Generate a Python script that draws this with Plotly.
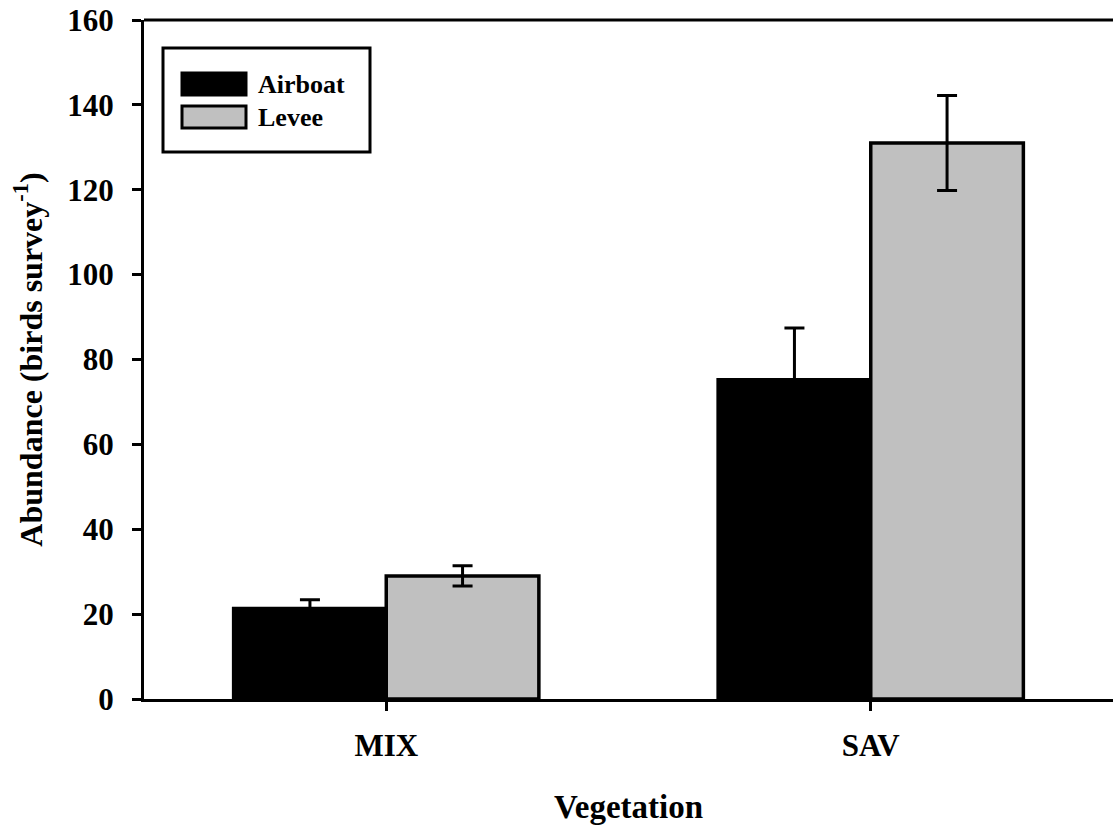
import plotly.graph_objects as go

categories = ["MIX", "SAV"]
airboat = [21.3, 75.2]
airboat_err = [2.1, 12.2]
levee = [29.0, 131.0]
levee_err = [2.4, 11.2]
series_names = ["Airboat", "Levee"]
y_ticks = [0, 20, 40, 60, 80, 100, 120, 140, 160]

FONT = "Liberation Serif"
W, H = 1113, 825
ML, MR, MT, MB = 144, 0, 20, 126

fig = go.Figure()
fig.add_trace(go.Bar(
    x=categories, y=airboat, name=series_names[0],
    marker=dict(color="black", line=dict(color="black", width=3.5)),
    error_y=dict(type="data", array=airboat_err, visible=True, color="black", thickness=3, width=10),
    showlegend=False,
))
fig.add_trace(go.Bar(
    x=categories, y=levee, name=series_names[1],
    marker=dict(color="#c0c0c0", line=dict(color="black", width=3.5)),
    error_y=dict(type="data", array=levee_err, visible=True, color="black", thickness=3, width=10),
    showlegend=False,
))

pw = W - ML - MR
ph = H - MT - MB
def px(x): return (x - ML) / pw
def py(y): return (H - MB - y) / ph

shapes = [
    dict(type="line", xref="paper", yref="paper", x0=0, x1=1.01, y0=1, y1=1,
         line=dict(color="black", width=3)),
    dict(type="rect", xref="paper", yref="paper", x0=px(163), x1=px(370), y0=py(152), y1=py(48),
         line=dict(color="black", width=3), fillcolor="white"),
    dict(type="rect", xref="paper", yref="paper", x0=px(182), x1=px(246), y0=py(95), y1=py(73),
         line=dict(color="black", width=3), fillcolor="black"),
    dict(type="rect", xref="paper", yref="paper", x0=px(182), x1=px(246), y0=py(128), y1=py(106),
         line=dict(color="black", width=3), fillcolor="#c0c0c0"),
]
annotations = [
    dict(text=series_names[0], xref="paper", yref="paper", x=px(256), y=py(84), xanchor="left", yanchor="middle",
         showarrow=False, font=dict(family=FONT, size=26, color="black", weight="bold")),
    dict(text=series_names[1], xref="paper", yref="paper", x=px(256), y=py(117), xanchor="left", yanchor="middle",
         showarrow=False, font=dict(family=FONT, size=26, color="black", weight="bold")),
]

fig.update_layout(
    width=W, height=H,
    margin=dict(l=ML, r=MR, t=MT, b=MB, pad=0),
    paper_bgcolor="white", plot_bgcolor="white",
    barmode="group", bargap=0.37, bargroupgap=0,
    font=dict(family=FONT, size=30, color="black", weight="bold"),
    shapes=shapes, annotations=annotations,
    xaxis=dict(
        range=[-0.5, 1.5], showline=True, linecolor="black", linewidth=3,
        ticks="outside", ticklen=9, tickwidth=3, tickcolor="black",
        showgrid=False, zeroline=False, ticklabelstandoff=8,
        tickfont=dict(family=FONT, size=31, color="black", weight="bold"),
        title=dict(text="Vegetation", font=dict(family=FONT, size=33, color="black", weight="bold"), standoff=36),
    ),
    yaxis=dict(
        range=[0, 160], tickvals=y_ticks, showline=True, linecolor="black", linewidth=3,
        ticks="outside", ticklen=9, tickwidth=3, tickcolor="black",
        showgrid=False, zeroline=False, ticklabelstandoff=12,
        tickfont=dict(family=FONT, size=31, color="black", weight="bold"),
        title=dict(text="Abundance (birds survey<sup>-1</sup>)",
                   font=dict(family=FONT, size=32, color="black", weight="bold"), standoff=16),
    ),
)

fig.write_html("out.html")
